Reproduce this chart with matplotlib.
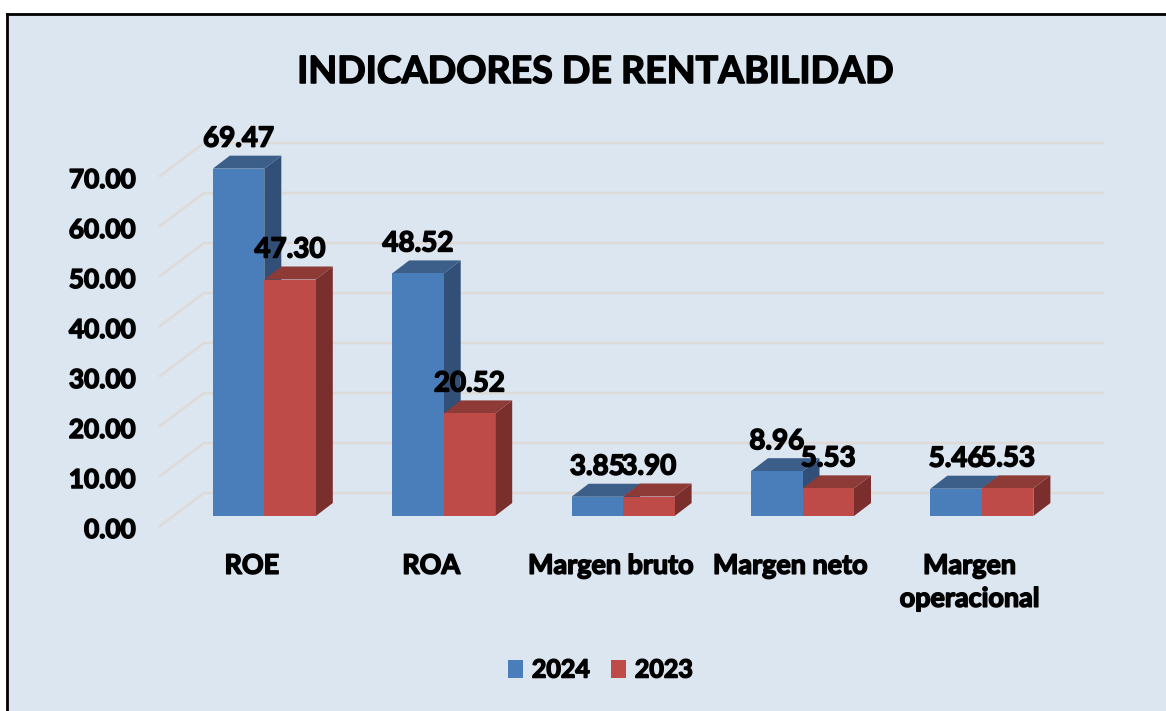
"""Indicadores de rentabilidad, fake 3D bars like the Excel chart"""

import matplotlib
matplotlib.use('Agg')
import matplotlib.pyplot as plt
import matplotlib.patheffects as pe
from matplotlib.patches import Polygon, Rectangle
import numpy as np

categories = ['ROE', 'ROA', 'Margen bruto', 'Margen neto', 'Margen\noperacional']
values_2024 = [69.47, 48.52, 3.85, 8.96, 5.46]
values_2023 = [47.30, 20.52, 3.90, 5.53, 5.53]
ticks = [0, 10, 20, 30, 40, 50, 60, 70]

W, H = 1166, 711
BG = '#dce6f1'
GRID = '#dedad7'

# one category = 179.4 px, one unit = 5 px
cat_px = 179.4
bar_w = 51.5 / cat_px
depth_x = 17 / cat_px
depth_y = 13 / 5

plt.rcParams['font.family'] = ['Lato', 'DejaVu Sans']
plt.rcParams['font.weight'] = 'bold'
heavy = [pe.withStroke(linewidth=1.1, foreground='black')]

fig = plt.figure(figsize=(W / 100, H / 100), dpi=100, facecolor='white')

# panel background and the black frame (only top and left show)
fig.add_artist(Rectangle((7 / W, 0), 1, 1 - 14 / H, transform=fig.transFigure,
                         facecolor=BG, edgecolor='none', zorder=-2))
fig.add_artist(plt.Line2D([7 / W, 7 / W], [0, 1 - 14 / H], color='black', lw=2.0,
                          transform=fig.transFigure, zorder=-1))
fig.add_artist(plt.Line2D([7 / W, 1], [1 - 14 / H, 1 - 14 / H], color='black', lw=2.0,
                          transform=fig.transFigure, zorder=-1))

ax = fig.add_axes([160 / W, (H - 531) / H, 943 / W, 388 / H])
ax.patch.set_alpha(0)
xlim = ((160 - 264.3) / cat_px, (1103 - 264.3) / cat_px)
ylim = (-3, 74.6)
for s in ax.spines.values():
    s.set_visible(False)

# wall gridlines with the little diagonal on the floor side
wall_x = (204 - 264.3) / cat_px
for t in ticks:
    ax.plot([xlim[0], wall_x, xlim[1]], [t - 2, t + 4.6, t + 4.6],
            color=GRID, lw=1.8, zorder=1, solid_joinstyle='miter', clip_on=False)


def draw_bars(xs, vals, front, top, side, z, label):
    bars = ax.bar(xs, vals, bar_w, color=front, zorder=z + 0.2, label=label)
    for xi, v in zip(xs, vals):
        l, r = xi - bar_w / 2, xi + bar_w / 2
        ax.add_patch(Polygon([(r, 0), (r + depth_x, depth_y), (r + depth_x, v + depth_y), (r, v)],
                             facecolor=side, edgecolor='none', zorder=z))
        ax.add_patch(Polygon([(l, v), (l + depth_x, v + depth_y), (r + depth_x, v + depth_y), (r, v)],
                             facecolor=top, edgecolor='none', zorder=z + 0.1))
    return bars


x = np.arange(len(categories))
b1 = draw_bars(x - bar_w / 2, values_2024, '#4a7ebb', '#3c5f8a', '#324f78', 2, '2024')
b2 = draw_bars(x + bar_w / 2, values_2023, '#be4b48', '#8e3a37', '#7a2f2c', 3, '2023')

for xs, vals in ((x - bar_w / 2, values_2024), (x + bar_w / 2, values_2023)):
    for xi, v in zip(xs, vals):
        ax.annotate(f'{v:.2f}', (xi, v), xytext=(0, 30), textcoords='offset pixels',
                    ha='center', va='center', fontsize=20, color='black', zorder=10,
                    path_effects=heavy)

ax.set_yticks([t - 2.4 for t in ticks])
ax.set_yticklabels([f'{t:.2f}' for t in ticks], fontsize=18.8, color='black', path_effects=heavy)
ax.tick_params(axis='y', length=0, pad=17.5)

ax.set_xticks(x - 0.07)
ax.set_xticklabels(categories, fontsize=19.4, color='black', path_effects=heavy, linespacing=1.45)
ax.tick_params(axis='x', length=0, pad=16.4)

ax.set_xlim(xlim)
ax.set_ylim(ylim)

fig.text(595 / W, 1 - 72 / H, 'INDICADORES DE RENTABILIDAD', ha='center', va='center',
         fontsize=27, color='black', path_effects=heavy)

leg = fig.legend(handles=[b1, b2], loc='center', bbox_to_anchor=(600.5 / W, 1 - 670 / H), ncol=2,
                 frameon=False, fontsize=18, handlelength=0.6, handleheight=0.7,
                 handletextpad=0.35, columnspacing=0.85)
for txt in leg.get_texts():
    txt.set_path_effects(heavy)

fig.savefig('out.png', dpi=100)
